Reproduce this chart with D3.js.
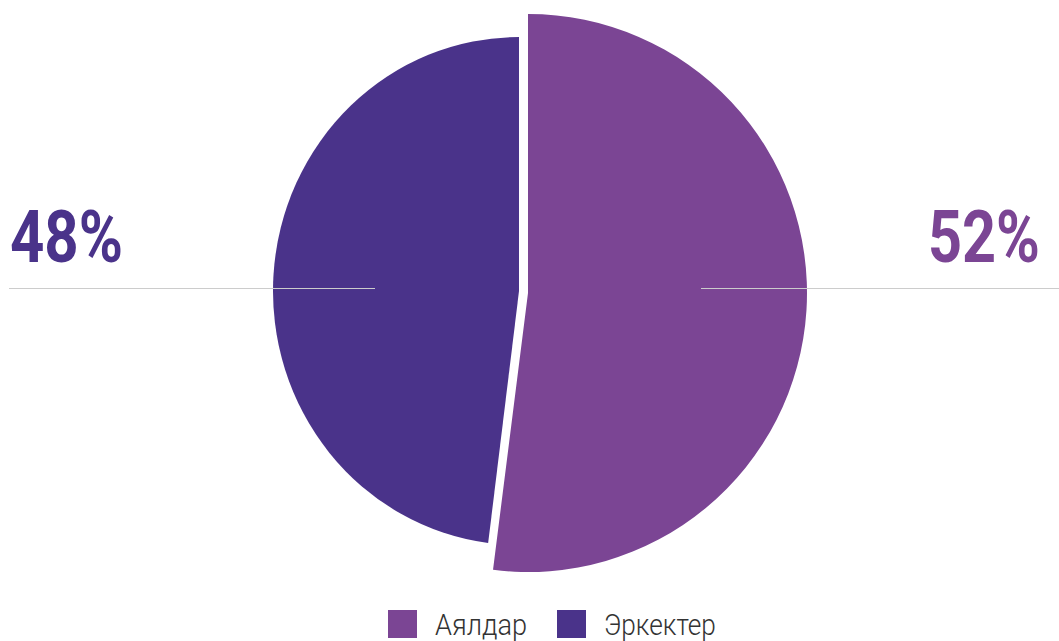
<!DOCTYPE html>
<html><head><meta charset="utf-8">
<script src="https://cdn.jsdelivr.net/npm/d3@7"></script>
<style>html,body{margin:0;padding:0;background:#fff;overflow:hidden}</style>
</head><body><svg id="c" width="1059" height="641"></svg>
<script>
const categories = ["Аялдар", "Эркектер"];
const values = [52, 48];
const labels = ["52%", "48%"];
const colors = ["#7B4594", "#4A338A"];

const svg = d3.select("#c");
const pie = d3.pie().sort(null).value(d => d)(values);

// slice geometry: purple slice pulled out and enlarged
const sliceCenters = [[528, 293], [519, 291]];
const sliceRadii = [279, 254];
const sliceScaleX = [1, 246 / 254];

pie.forEach((p, i) => {
  const arc = d3.arc().innerRadius(0).outerRadius(sliceRadii[i]);
  svg.append("path")
    .attr("d", arc(p))
    .attr("transform", `translate(${sliceCenters[i][0]},${sliceCenters[i][1]}) scale(${sliceScaleX[i]},1)`)
    .attr("fill", colors[i]);
});

// leader lines
svg.append("line").attr("x1", 701).attr("x2", 1059).attr("y1", 288.5).attr("y2", 288.5)
  .attr("stroke", "#cccccc").attr("stroke-width", 1);
svg.append("line").attr("x1", 9).attr("x2", 375).attr("y1", 288.5).attr("y2", 288.5)
  .attr("stroke", "#cccccc").attr("stroke-width", 1);

// labels (condensed by horizontal scaling)
function condensedLabel(txt, x, y, w, color) {
  const t = svg.append("text").attr("x", 0).attr("y", 0).text(txt)
    .attr("font-family", "Roboto").attr("font-weight", 700).attr("font-size", 73)
    .attr("fill", color);
  const nat = t.node().getComputedTextLength();
  t.attr("transform", `translate(${x},${y}) scale(${w / nat},1)`);
}
condensedLabel(labels[0], 928, 262, 112, colors[0]);
condensedLabel(labels[1], 10, 262, 113, colors[1]);

// legend
const legX = [388, 557], textW = [92, 112];
categories.forEach((c, i) => {
  svg.append("rect").attr("x", legX[i]).attr("y", 610).attr("width", 29).attr("height", 28)
    .attr("fill", colors[i]);
  const t = svg.append("text").attr("x", 0).attr("y", 0).text(c)
    .attr("font-family", "Roboto").attr("font-weight", 300).attr("font-size", 30)
    .attr("fill", "#333");
  const nat = t.node().getComputedTextLength();
  t.attr("transform", `translate(${legX[i] + 47},635) scale(${textW[i] / nat},1)`);
});
</script></body></html>
